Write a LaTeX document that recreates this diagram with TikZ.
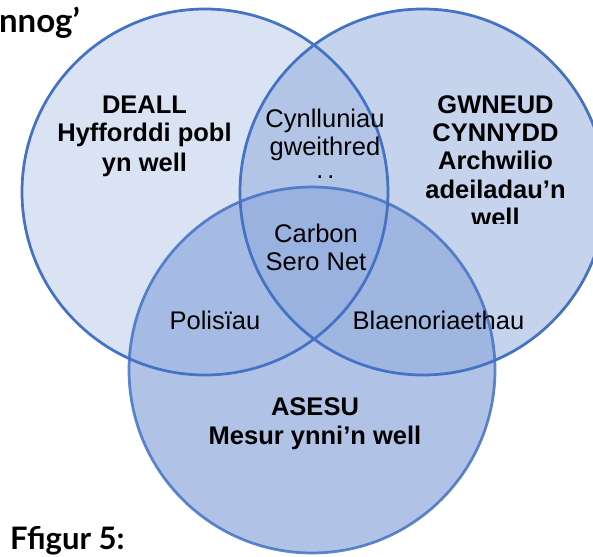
\documentclass[tikz,border=0pt]{standalone}
\usepackage{fontspec}
\setmainfont{Liberation Sans}
\newfontfamily\capfont{Lato}
\definecolor{vblue}{HTML}{4472C4}
\definecolor{vfill}{HTML}{8FAADC}
\tikzset{
  vennfill/.style={fill=vfill},
  vennline/.style={draw=vblue, line width=2.75pt},
  lbl/.style={inner sep=0pt, anchor=base, align=center, font=\fontsize{25.5}{28}\selectfont},
  blbl/.style={lbl, font=\fontsize{25.5}{28.4}\selectfont\bfseries},
  captxt/.style={inner sep=0pt, font=\capfont\bfseries}
}
\begin{document}
\begin{tikzpicture}[x=1pt,y=-1pt]
\useasboundingbox (0,0) rectangle (593,556);
\begin{scope}
\clip (0,0) rectangle (593,556);
\path[vennfill, fill opacity=0.33] (205,192) circle[radius=183];
\path[vennfill, fill opacity=0.52] (423,192) circle[radius=183];
\path[vennfill, fill opacity=0.70] (312,370) circle[radius=183];
\path[vennline] (205,192) circle[radius=183];
\path[vennline] (423,192) circle[radius=183];
\path[vennline, draw opacity=0.85] (312,370) circle[radius=183];
% captions (the top one is cut off at the left edge)
\node[captxt, anchor=base east, font=\capfont\bfseries\fontsize{33}{37}\selectfont] (title) at (80,33) {nnog’};
\end{scope}
% circle labels (anchor base = baseline of the last line)
\node[blbl, font=\fontsize{25.5}{29}\selectfont\bfseries] (deall) at (144.5,171) {DEALL\\Hyfforddi pobl\\yn well};
\begin{scope}
\clip (380,60) rectangle (593,223);
\node[blbl] (gwneud) at (495.5,226.6) {GWNEUD\\CYNNYDD\\Archwilio\\adeiladau’n\\well};
\end{scope}
\node[blbl] (asesu) at (315,444) {ASESU\\Mesur ynni’n well};
% overlap labels
\node[lbl] (cynll) at (325,155) {Cynlluniau\\gweithred};
\begin{scope}
\clip (300,160) rectangle (350,178);
\node[lbl] (dots) at (325.5,178) {.\hspace{4pt}.};
\end{scope}
\node[lbl] (carbon) at (316,270) {Carbon\\Sero Net};
\node[lbl] (polis) at (215,329) {Polisïau};
\node[lbl] (blaen) at (438.5,329) {Blaenoriaethau};
\node[captxt, anchor=base west, font=\capfont\bfseries\fontsize{31}{35}\selectfont] (fig) at (10,549) {Ffigur 5:};
\end{tikzpicture}
\end{document}
